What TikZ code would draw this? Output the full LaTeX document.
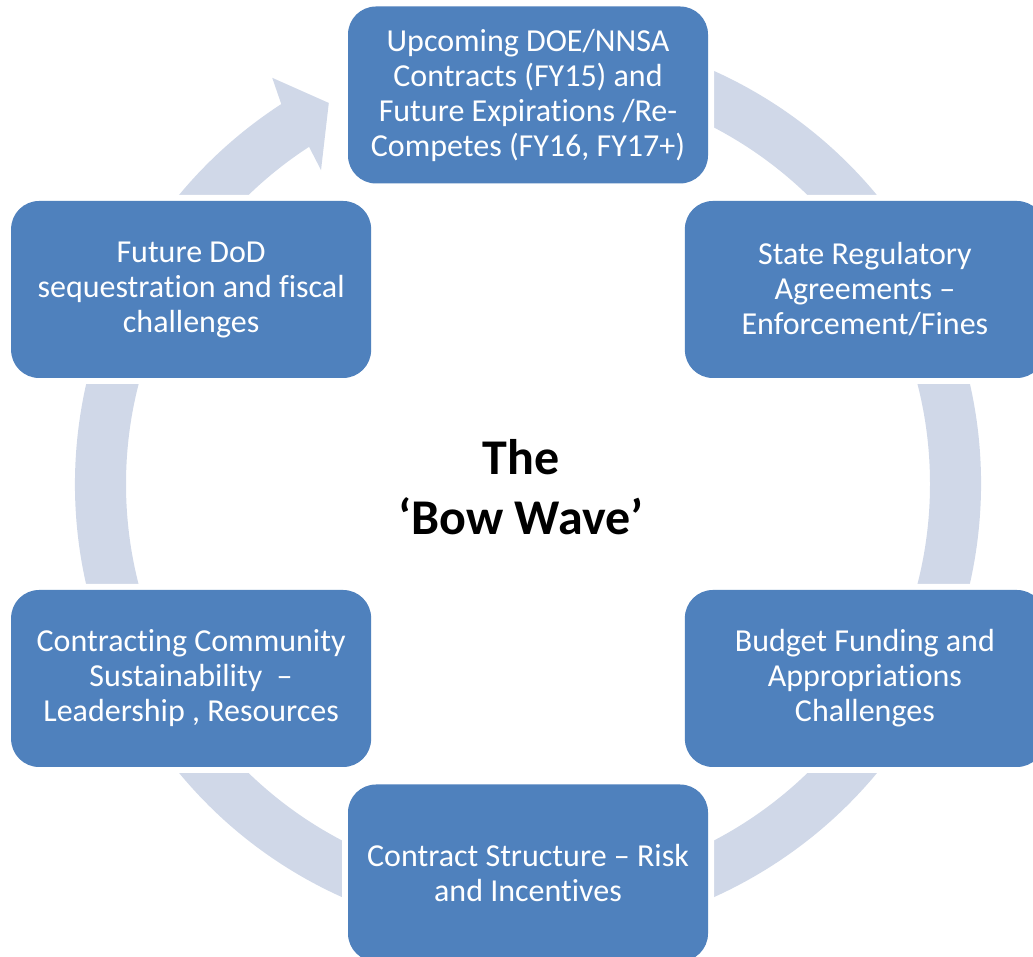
\documentclass[tikz,border=0pt]{standalone}
\usepackage{fontspec}
\setmainfont{Carlito}[Ligatures=NoCommon]
\usetikzlibrary{calc}
\definecolor{boxblue}{HTML}{4F81BD}
\definecolor{ringblue}{HTML}{D0D8E8}

\begin{document}
\begin{tikzpicture}[x=1pt, y=1pt, every node/.style={inner sep=0pt},
  stage/.style={rounded corners=28pt, fill=boxblue, text=white, align=center,
    minimum width=360pt, minimum height=177pt,
    font=\fontsize{32}{35}\selectfont,
    preaction={draw=white, line width=12pt}}]
  \clip (0,0) rectangle (1033,957);
  \coordinate (c) at (528,473);
  % ring with the head at the upper left
  \fill[ringblue] ($(c)+(123:453)$) arc[start angle=123, end angle=450, radius=453]
    -- ($(c)+(90:402)$) arc[start angle=450, end angle=123, radius=402]
    -- ($(c)+(123.4:376)$) -- ($(c)+(117.6:430)$) -- ($(c)+(122.2:480)$) -- cycle;
  \node[stage] (sUp) at ($(c)+(90:389)$)
    {Upcoming DOE/NNSA\\Contracts (FY15) and\\Future Expirations /Re-\\Competes (FY16, FY17+)};
  \node[stage] (sReg) at ($(c)+(30:389)$)
    {State Regulatory\\Agreements --\\Enforcement/Fines};
  \node[stage] (sBud) at ($(c)+(-30:389)$)
    {Budget Funding and\\Appropriations\\Challenges};
  \node[stage] (sStr) at ($(c)+(-90:389)$)
    {Contract Structure -- Risk\\and Incentives};
  \node[stage] (sCom) at ($(c)+(210:389)$)
    {Contracting Community\\Sustainability\ \ --\\Leadership , Resources};
  \node[stage] (sDoD) at ($(c)+(150:389)$)
    {Future DoD\\sequestration and fiscal\\challenges};
  \node[font=\fontsize{50}{60}\selectfont\bfseries, align=center] (title) at (521,470)
    {The\\‘Bow Wave’};
\end{tikzpicture}
\end{document}
